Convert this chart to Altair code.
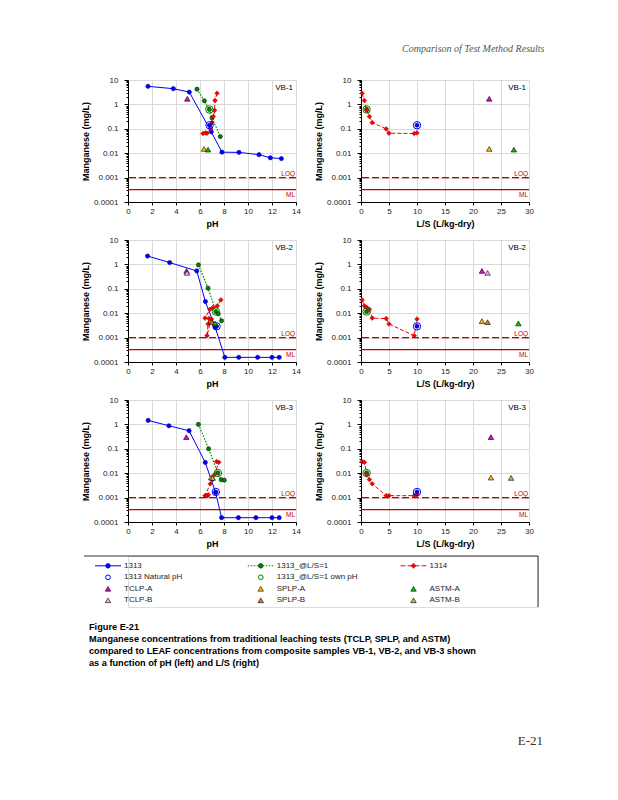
import altair as alt
import pandas as pd

samples = ["VB-1", "VB-2", "VB-3"]

# ---------------- data (Mn, mg/L) ----------------
# LEAF Method 1313 (pH dependence)
m1313_ph = {"VB-1": [1.67, 3.78, 5.11, 6.94, 7.83, 9.25, 10.92, 11.86, 12.78],
            "VB-2": [1.63, 3.47, 5.73, 6.45, 7.27, 8.07, 9.23, 10.8, 12.0, 12.6],
            "VB-3": [1.68, 3.41, 5.09, 6.44, 7.30, 7.80, 9.20, 10.66, 12.0, 12.6]}
m1313_mn = {"VB-1": [5.5, 4.4, 3.2, 0.075, 0.011, 0.0108, 0.0087, 0.0065, 0.006],
            "VB-2": [2.2, 1.19, 0.54, 0.030, 0.0026, 0.000155, 0.000155, 0.000155, 0.000155, 0.000155],
            "VB-3": [1.46, 0.88, 0.55, 0.0275, 0.0016, 0.00015, 0.00015, 0.00015, 0.00015, 0.00015]}
# 1313 natural pH point (plotted at L/S = 10)
nat_ph = {"VB-1": 6.80, "VB-2": 7.38, "VB-3": 7.32}
nat_mn = {"VB-1": 0.14, "VB-2": 0.0029, "VB-3": 0.0017}
nat_ls = 10.0
# 1313 at L/S = 1
ls1_ph = {"VB-1": [5.75, 6.36, 6.78, 7.00, 7.69],
          "VB-2": [5.87, 6.67, 7.33, 7.52, 7.80],
          "VB-3": [5.87, 6.72, 7.49, 7.77, 8.02]}
ls1_mn = {"VB-1": [4.2, 1.4, 0.62, 0.28, 0.048],
          "VB-2": [0.95, 0.106, 0.0117, 0.0095, 0.0049],
          "VB-3": [1.0, 0.10, 0.0102, 0.0054, 0.0052]}
# 1313 @ L/S=1 own pH point (plotted at L/S = 1)
own_ph = {"VB-1": 6.78, "VB-2": 7.33, "VB-3": 7.49}
own_mn = {"VB-1": 0.62, "VB-2": 0.0117, "VB-3": 0.0102}
own_ls = 1.0
# LEAF Method 1314 (column test)
m1314_ls = [0.2, 0.6, 1.05, 1.5, 2.0, 4.5, 5.0, 9.5, 10.0]
m1314_ph = {"VB-1": [7.42, 7.25, 7.22, 7.11, 7.00, 6.89, 6.58, 6.25, 6.45],
            "VB-2": [7.74, 7.44, 7.08, 6.83, 6.42, 6.75, 6.67, 6.58, 6.95],
            "VB-3": [7.38, 7.57, 7.19, 7.05, 6.86, 6.42, 6.55, 6.61, 6.70]}
m1314_mn = {"VB-1": [2.87, 1.45, 0.57, 0.32, 0.18, 0.099, 0.066, 0.064, 0.068],
            "VB-2": [0.035, 0.020, 0.017, 0.0144, 0.0063, 0.006, 0.0036, 0.0012, 0.0058],
            "VB-3": [0.030, 0.028, 0.0085, 0.0055, 0.0037, 0.0012, 0.0012, 0.0012, 0.0013]}
# traditional leaching tests
tri_test = {"VB-1": ["TCLP-A", "SPLP-A", "ASTM-A"],
            "VB-2": ["TCLP-A", "TCLP-B", "SPLP-A", "SPLP-B", "ASTM-A"],
            "VB-3": ["TCLP-A", "SPLP-A", "ASTM-B"]}
tri_ph = {"VB-1": [4.94, 6.33, 6.67], "VB-2": [4.88, 4.92, 6.95, 7.00, 7.25], "VB-3": [4.86, 6.93, 7.05]}
tri_ls = {"VB-1": [22.9, 22.9, 27.3], "VB-2": [21.6, 22.6, 21.6, 22.6, 28.1], "VB-3": [23.2, 23.2, 26.8]}
tri_mn = {"VB-1": [1.7, 0.015, 0.014], "VB-2": [0.54, 0.45, 0.0047, 0.0043, 0.0038], "VB-3": [0.30, 0.0066, 0.0064]}
test_names = ["TCLP-A", "TCLP-B", "SPLP-A", "SPLP-B", "ASTM-A", "ASTM-B"]
test_colors = ["#E600E6", "#FFA3FF", "#FFC000", "#F07020", "#00CC00", "#92D050"]
# reference lines
ref_names = ["LOQ", "ML"]
ref_values = [0.001, 0.00032]

# legend entries
leg_labels = ["1313", "1313_@L/S=1", "1314", "1313 Natural pH", "1313_@L/S=1 own pH",
              "TCLP-A", "SPLP-A", "ASTM-A", "TCLP-B", "SPLP-B", "ASTM-B"]
leg_col = [0, 1, 2, 0, 1, 0, 1, 2, 0, 1, 2]
leg_row = [0, 0, 0, 1, 1, 2, 2, 2, 3, 3, 3]

caption = ["Figure E-21",
           "Manganese concentrations from traditional leaching tests (TCLP, SPLP, and ASTM)",
           "compared to LEAF concentrations from composite samples VB-1, VB-2, and VB-3 shown",
           "as a function of pH (left) and L/S (right)"]
header = "Comparison of Test Method Results"
page_number = "E-21"

# ---------------- styling ----------------
FONT = "Liberation Sans"
BLUE, BLUE_D = "#0000FF", "#000080"
GREEN, GREEN_D = "#008000", "#003300"
RED = "#FF0000"
REF = "#C00000"
W, H = 168, 122

YVALS = [m * 10.0 ** e for e in range(-4, 1) for m in range(1, 10)] + [10.0]
DEC = "abs(log(datum.value)/LN10 - round(log(datum.value)/LN10)) < 0.001"

yaxis = alt.Axis(values=YVALS, labelExpr=f"{DEC} ? format(datum.value, '~g') : ''",
                 title="Manganese (mg/L)", titleFontSize=9, titleFontWeight="bold", titleColor="black",
                 titlePadding=3, labelFontSize=8, labelColor="#222", labelPadding=6,
                 labelFlush=False, labelOverlap=False, grid=True, gridColor="#D9D9D9",
                 gridOpacity={"condition": {"test": DEC, "value": 1}, "value": 0},
                 tickSize={"condition": {"test": DEC, "value": 4}, "value": 2},
                 tickColor="black", domainColor="black", domainWidth=1)
yscale = alt.Scale(type="log", domain=[0.0001, 10], nice=False)


def yenc(field):
    return alt.Y(f"{field}:Q", scale=yscale, axis=yaxis)


def xparts(kind):
    if kind == "ph":
        dom, vals, title = [0, 14], list(range(0, 15, 2)), "pH"
    else:
        dom, vals, title = [0, 30], list(range(0, 31, 5)), "L/S (L/kg-dry)"
    scale = alt.Scale(domain=dom, nice=False)
    axis = alt.Axis(values=vals, title=title, titleFontSize=9, titleFontWeight="bold",
                    titleColor="black", titlePadding=4, labelFontSize=8, labelColor="#222",
                    labelPadding=2, labelFlush=False, labelOverlap=False, grid=True,
                    gridColor="#D9D9D9", tickSize=3, tickColor="black", domainColor="black")
    return scale, axis


def xenc(field, kind):
    scale, axis = xparts(kind)
    return alt.X(f"{field}:Q", scale=scale, axis=axis)


def panel(s, kind):
    xmax = 14 if kind == "ph" else 30
    xs, xa = xparts(kind)
    xdat = alt.XDatum(xmax, type="quantitative", scale=xs, axis=xa)
    layers = []
    xf = "ph" if kind == "ph" else "ls"

    d1314 = pd.DataFrame({"ls": m1314_ls, "ph": m1314_ph[s], "mn": m1314_mn[s],
                          "i": list(range(len(m1314_ls)))})
    nat = pd.DataFrame({"ph": [nat_ph[s]], "ls": [nat_ls], "mn": [nat_mn[s]]})
    own = pd.DataFrame({"ph": [own_ph[s]], "ls": [own_ls], "mn": [own_mn[s]]})
    tri = pd.DataFrame({"test": tri_test[s], "ph": tri_ph[s], "ls": tri_ls[s], "mn": tri_mn[s]})

    # reference lines + labels
    for name, val, dash, base, dy in zip(ref_names, ref_values, [[7, 3], []], ["bottom", "top"], [-1, 2]):
        rd = pd.DataFrame({"name": [name], "val": [val]})
        rule_kw = dict(color=REF, strokeWidth=1.1)
        if dash:
            rule_kw["strokeDash"] = dash
        layers.append(alt.Chart(rd).mark_rule(**rule_kw).encode(y=yenc("val")))
        layers.append(alt.Chart(rd).mark_text(align="right", baseline=base, dx=-1, dy=dy, fontSize=6.5,
                                              color=REF, font=FONT)
                      .encode(x=xdat, y=yenc("val"), text="name:N"))
    # panel label
    layers.append(alt.Chart(pd.DataFrame({"label": [s]})).mark_text(
        align="right", baseline="top", dx=-3, dy=4, fontSize=8, font=FONT, color="black")
        .encode(x=xdat, y=alt.YDatum(10, type="quantitative", scale=yscale, axis=yaxis), text="label:N"))

    if kind == "ph":
        d1313 = pd.DataFrame({"ph": m1313_ph[s], "mn": m1313_mn[s], "i": list(range(len(m1313_ph[s])))})
        dls1 = pd.DataFrame({"ph": ls1_ph[s], "mn": ls1_mn[s], "i": list(range(len(ls1_ph[s])))})
        layers.append(alt.Chart(d1313).mark_line(color=BLUE, strokeWidth=1)
                      .encode(x=xenc("ph", kind), y=yenc("mn"), order="i:Q"))
        layers.append(alt.Chart(dls1).mark_line(color=GREEN, strokeWidth=1.2, strokeDash=[1.5, 1.5])
                      .encode(x=xenc("ph", kind), y=yenc("mn"), order="i:Q"))
    layers.append(alt.Chart(d1314).mark_line(color=RED, strokeWidth=1, strokeDash=[4, 2])
                  .encode(x=xenc(xf, kind), y=yenc("mn"), order="i:Q"))
    if kind == "ph":
        layers.append(alt.Chart(d1313).mark_point(shape="circle", filled=True, fill=BLUE, stroke=BLUE_D,
                                                  strokeWidth=0.6, size=18, opacity=1)
                      .encode(x=xenc("ph", kind), y=yenc("mn")))
        layers.append(alt.Chart(dls1).mark_point(shape="circle", filled=True, fill=GREEN, stroke=GREEN_D,
                                                 strokeWidth=0.6, size=18, opacity=1)
                      .encode(x=xenc("ph", kind), y=yenc("mn")))
    else:
        layers.append(alt.Chart(own).mark_point(shape="circle", filled=True, fill=GREEN, stroke=GREEN_D,
                                                strokeWidth=0.6, size=18, opacity=1)
                      .encode(x=xenc("ls", kind), y=yenc("mn")))
    layers.append(alt.Chart(d1314).mark_point(shape="diamond", filled=True, fill=RED, stroke="#990000",
                                              strokeWidth=0.5, size=22, opacity=1)
                  .encode(x=xenc(xf, kind), y=yenc("mn")))
    layers.append(alt.Chart(nat).mark_point(shape="circle", filled=True, fill=BLUE, stroke=BLUE_D,
                                            strokeWidth=0.6, size=16, opacity=1)
                  .encode(x=xenc(xf, kind), y=yenc("mn")))
    layers.append(alt.Chart(nat).mark_point(shape="circle", filled=False, stroke=BLUE, strokeWidth=1,
                                            size=55, opacity=1)
                  .encode(x=xenc(xf, kind), y=yenc("mn")))
    layers.append(alt.Chart(own).mark_point(shape="circle", filled=False, stroke=GREEN, strokeWidth=1,
                                            size=55, opacity=1)
                  .encode(x=xenc(xf, kind), y=yenc("mn")))
    layers.append(alt.Chart(tri).mark_point(shape="triangle-up", filled=True, stroke="black",
                                            strokeWidth=0.6, size=30, opacity=1)
                  .encode(x=xenc(xf, kind), y=yenc("mn"),
                          fill=alt.Fill("test:N", scale=alt.Scale(domain=test_names, range=test_colors),
                                        legend=None)))
    return alt.layer(*layers).properties(width=W, height=H)


rows = alt.vconcat(*[alt.hconcat(panel(s, "ph"), panel(s, "ls"), spacing=13) for s in samples],
                   spacing=6)

# ---------------- custom legend + caption ----------------
# legend view spans the panels' left edge to the box's right edge; box itself starts BL px further left
LW, LH, BL = 410, 51, 44
C0, CS = -20.0, 152.75    # first symbol column / column pitch (px, relative to view)
R0, RS = 9.8, 11.5        # first row / row pitch (px)
lx = alt.Scale(domain=[-C0 / CS, (LW - C0) / CS], nice=False, zero=False)
ly = alt.Scale(domain=[-R0 / RS, (LH - R0) / RS], nice=False, zero=False, reverse=True)
legdf = pd.DataFrame({"col": leg_col, "row": leg_row, "label": leg_labels})
LXe = alt.X("col:Q", scale=lx, axis=None)
LYe = alt.Y("row:Q", scale=ly, axis=None)

leg_layers = []
line_styles = [(BLUE, []), (GREEN, [1.5, 1.5]), (RED, [5, 2])]
for i, (col, dash) in enumerate(line_styles):
    kw = dict(color=col, strokeWidth=1, xOffset=-13, x2Offset=13)
    if dash:
        kw["strokeDash"] = dash
    leg_layers.append(alt.Chart(legdf.iloc[[i]]).mark_rule(**kw).encode(x=LXe, x2="col:Q", y=LYe))
mk = [dict(shape="circle", filled=True, fill=BLUE, stroke=BLUE_D, strokeWidth=0.6, size=22),
      dict(shape="circle", filled=True, fill=GREEN, stroke=GREEN_D, strokeWidth=0.6, size=22),
      dict(shape="diamond", filled=True, fill=RED, stroke="#990000", strokeWidth=0.5, size=26),
      dict(shape="circle", filled=False, stroke=BLUE, strokeWidth=1, size=22),
      dict(shape="circle", filled=False, stroke=GREEN, strokeWidth=1, size=22)]
mk_map = {leg_labels[i]: mk[i] for i in range(5)}
for name, colr in zip(test_names, test_colors):
    mk_map[name] = dict(shape="triangle-up", filled=True, fill=colr, stroke="black", strokeWidth=0.6, size=30)
for i, lab in enumerate(leg_labels):
    leg_layers.append(alt.Chart(legdf.iloc[[i]]).mark_point(opacity=1, **mk_map[lab]).encode(x=LXe, y=LYe))
leg_layers.append(alt.Chart(legdf).mark_text(align="left", baseline="middle", dx=16, fontSize=8,
                                             font=FONT, color="#222")
                  .encode(x=LXe, y=LYe, text="label:N"))
border = pd.DataFrame({"b": [0]})
leg_layers.append(alt.Chart(border).mark_rule(color="black", strokeWidth=0.8)
                  .encode(x=alt.value(-BL), x2=alt.value(LW), y=alt.value(0)))
leg_layers.append(alt.Chart(border).mark_rule(color="black", strokeWidth=0.8)
                  .encode(x=alt.value(LW), y=alt.value(0), y2=alt.value(LH)))
# figure caption and page number
leg_layers.append(alt.Chart(pd.DataFrame({"t": ["\n".join(caption)]})).mark_text(
    align="left", baseline="top", lineBreak="\n", lineHeight=12, fontSize=9.2, fontWeight="bold",
    font=FONT, color="black").encode(text="t:N", x=alt.value(-39), y=alt.value(67)))
leg_layers.append(alt.Chart(pd.DataFrame({"t": [page_number]})).mark_text(
    align="right", baseline="middle", font="Liberation Serif", fontSize=13, color="#333"
).encode(text="t:N", x=alt.value(LW + 5), y=alt.value(185)))
legend = alt.layer(*leg_layers).properties(width=LW, height=LH)

chart = alt.vconcat(
    rows, legend, spacing=6,
    title=alt.Title(header, anchor="end", font="Liberation Serif",
                    fontStyle="italic", fontSize=10, fontWeight="normal", color="#555", offset=22, dx=1)
).properties(
    padding={"left": 73, "top": 35, "right": 5, "bottom": 5}
).configure_view(stroke=None).configure(font=FONT)

chart.save("out.html", embed_options={"renderer": "svg", "actions": False})
